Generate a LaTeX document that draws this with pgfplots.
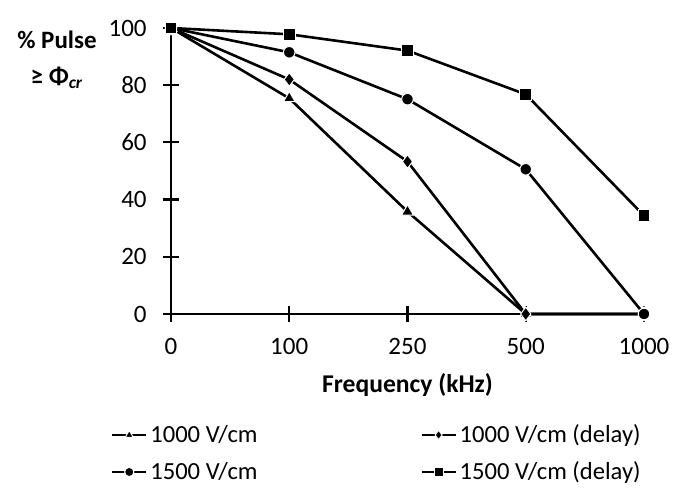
\documentclass[border=0pt]{standalone}
\usepackage{fontspec}
\setmainfont{Carlito}
\usepackage{pgfplots}
\pgfplotsset{compat=1.18}
\begin{document}
\begin{tikzpicture}[x=1pt,y=1pt]
\path[use as bounding box, fill=white] (0,0) rectangle (342.5,248);
\begin{axis}[
  at={(85.5pt,91pt)}, anchor=south west,
  scale only axis, width=236.5pt, height=143pt,
  xmin=0, xmax=4, ymin=0, ymax=100,
  xtick={0,1,2,3,4}, xticklabels={0,100,250,500,1000},
  ytick={0,20,40,60,80,100},
  axis x line=bottom, axis y line=left,
  axis line style={line width=1.1pt, -},
  tick style={line width=1.1pt, black},
  major tick length=8pt, tick align=center,
  clip=false,
  font=\fontsize{12.5}{15}\selectfont,
  /pgf/number format/assume math mode=true,
  xticklabel shift=4.5pt,
  every y tick label/.append style={inner xsep=0pt, xshift=-8pt},
  xlabel={\bfseries Frequency (kHz)},
  xlabel style={at={(axis description cs:0.5,-0.248)}, anchor=center, font=\fontsize{12.8}{16}\selectfont},
  ylabel={\bfseries \% Pulse\\[3pt]\bfseries ≥ Φ\textsubscript{\textit{cr}}},
  ylabel style={at={(axis description cs:-0.241,0.888)}, anchor=center, rotate=-90, align=center},
  legend columns=2,
  legend cell align=left,
  legend style={at={(axis description cs:-0.14,-0.357)}, anchor=north west, draw=none, fill=none,
    font=\fontsize{12.3}{14.4}\selectfont, row sep=4pt,
    nodes={inner xsep=1.5pt},
    /tikz/every even column/.append style={column sep=80pt}},
  legend image code/.code={\draw[mark repeat=2,mark phase=2,#1,line width=1pt,mark size=2.3pt]
    plot coordinates {(0cm,0cm)(0.3cm,0cm)(0.6cm,0cm)};},
  every axis plot/.append style={black, line width=1.3pt},
]
\addplot[mark=triangle*, mark size=3.4pt, mark options={fill=black, draw=white, line width=0.5pt}]
  coordinates {(0,100) (1,75.4) (2,35.8) (3,0) (4,0)};
\addlegendentry{1000 V/cm}
\addplot[mark=diamond*, mark size=3.4pt, mark options={fill=black, draw=white, line width=0.5pt}]
  coordinates {(0,100) (1,82) (2,53.3) (3,0) (4,0)};
\addlegendentry{1000 V/cm (delay)}
\addplot[mark=*, mark size=2.9pt, mark options={fill=black, draw=white, line width=0.5pt}]
  coordinates {(0,100) (1,91.5) (2,75.1) (3,50.6) (4,0)};
\addlegendentry{1500 V/cm}
\addplot[mark=square*, mark size=2.9pt, mark options={fill=black, draw=white, line width=0.5pt}]
  coordinates {(0,100) (1,97.8) (2,92.1) (3,76.8) (4,34.4)};
\addlegendentry{1500 V/cm (delay)}
\end{axis}
\end{tikzpicture}
\end{document}
